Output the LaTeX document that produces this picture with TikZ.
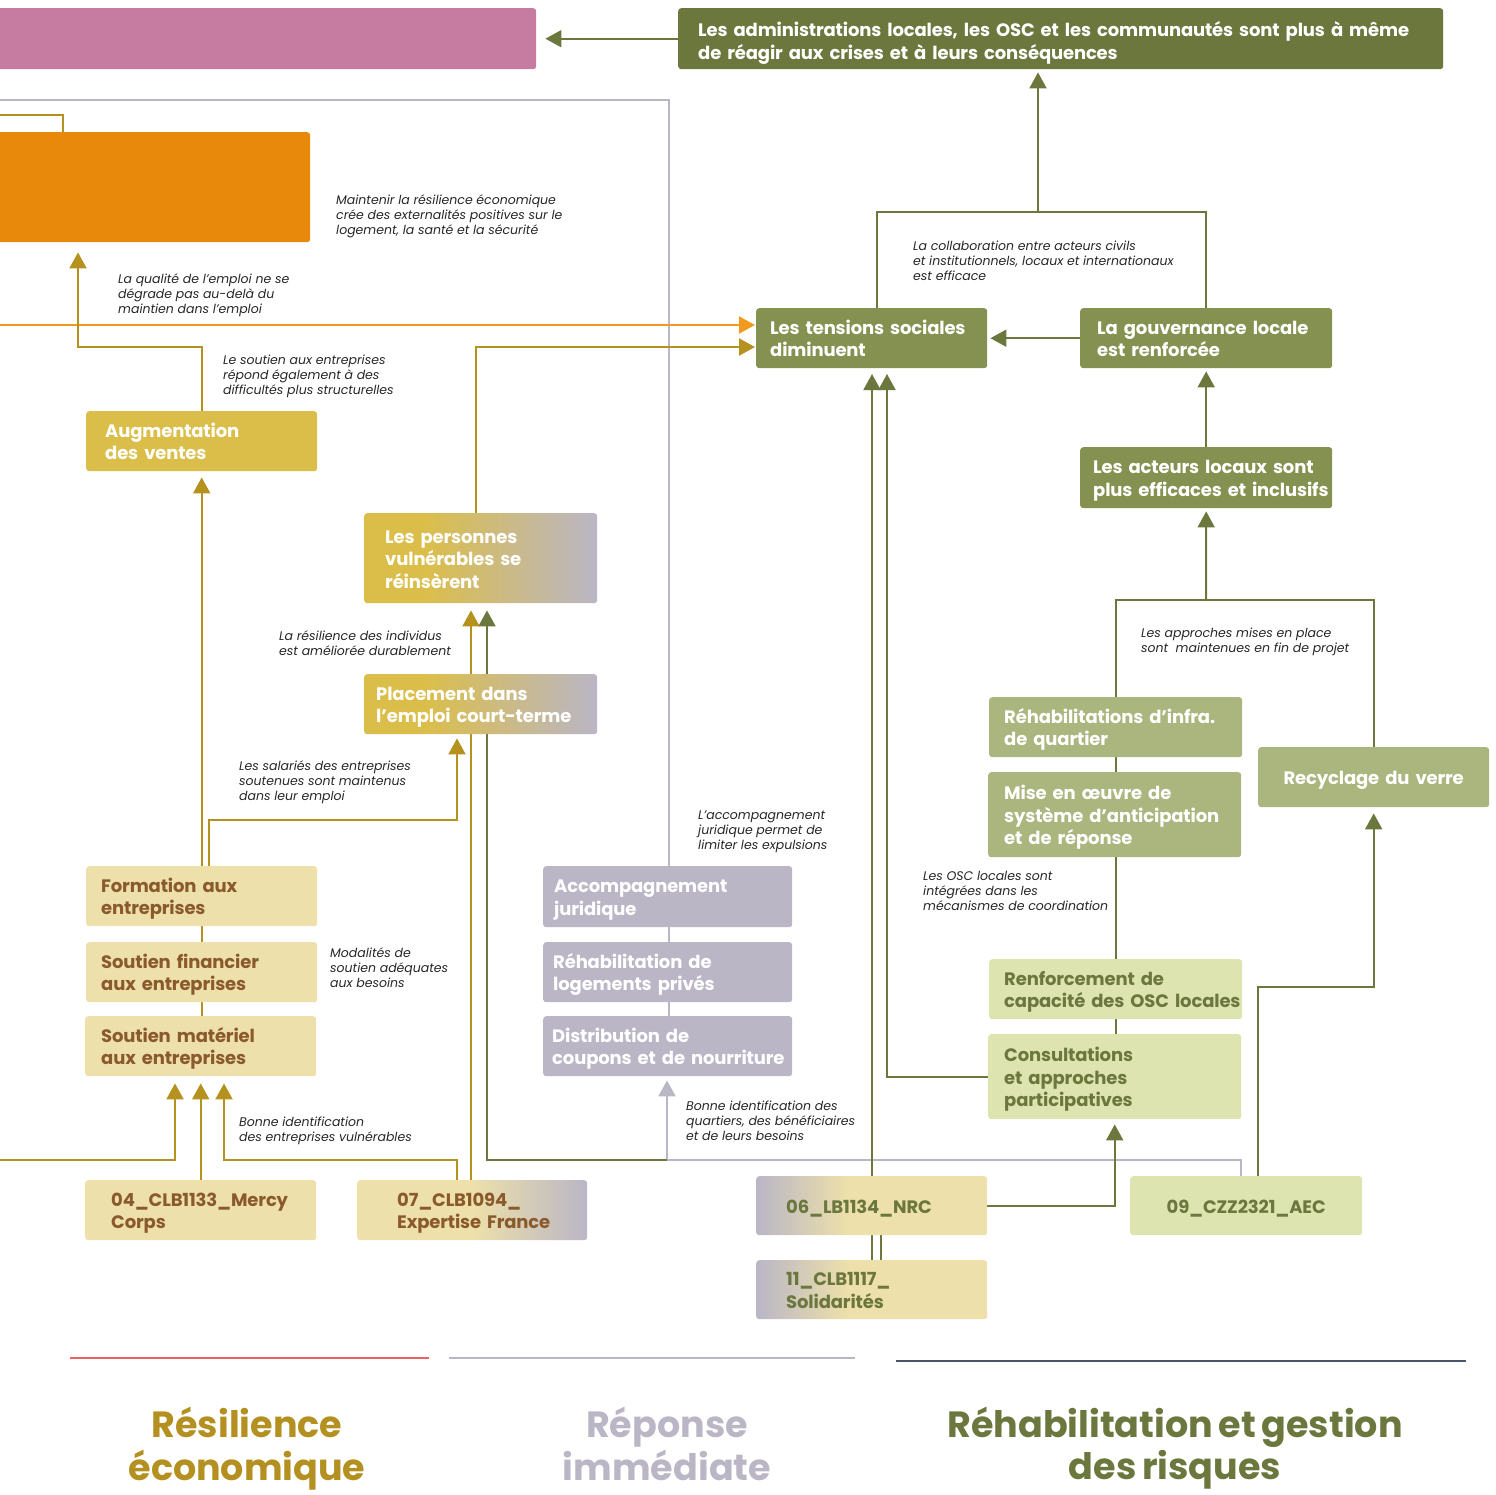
\documentclass[tikz,border=0pt]{standalone}
\usepackage{fontspec}
\setmainfont{Poppins}
\newfontfamily\boxfont{Poppins}[WordSpace=0.72, LetterSpace=-0.8]
\newfontfamily\ttlfont{Poppins}[WordSpace=0.72]
\usetikzlibrary{arrows.meta}
\pgfdeclarelayer{background}
\pgfsetlayers{background,main}
\definecolor{dolive}{HTML}{6B773D}
\definecolor{molive}{HTML}{859150}
\definecolor{lolive}{HTML}{ABB57E}
\definecolor{pgreen}{HTML}{DDE4B0}
\definecolor{gline}{HTML}{B5911E}
\definecolor{ygold}{HTML}{DBBE4A}
\definecolor{beige}{HTML}{EDE0AA}
\definecolor{tbrown}{HTML}{8A5A2C}
\definecolor{lav}{HTML}{BAB6C6}
\definecolor{orng}{HTML}{E8890C}
\definecolor{oline}{HTML}{F29A1F}
\definecolor{pinkbox}{HTML}{C67BA0}
\definecolor{redl}{HTML}{E86464}
\definecolor{slate}{HTML}{4A5568}
\definecolor{tgold}{HTML}{B39020}
\pgfdeclarehorizontalshading{goldlav}{100bp}{color(0bp)=(ygold); color(25bp)=(ygold); color(38bp)=(ygold); color(75bp)=(lav); color(100bp)=(lav)}
\pgfdeclarehorizontalshading{beigelav}{100bp}{color(0bp)=(beige); color(25bp)=(beige); color(50bp)=(beige); color(75bp)=(lav); color(100bp)=(lav)}
\pgfdeclarehorizontalshading{lavbeige}{100bp}{color(0bp)=(lav); color(25bp)=(lav); color(45bp)=(beige); color(75bp)=(beige); color(100bp)=(beige)}
\newcommand\nodefont{\boxfont\bfseries\fontsize{18}{22.5}\selectfont}
\newcommand\annfont{\itshape\fontsize{12.5}{15}\selectfont}
\newcommand\titlefont{\ttlfont\bfseries\fontsize{36.5}{42}\selectfont}
\newcommand\tl[1]{\noindent\raisebox{-3pt}[\height][\depth]{\begin{tabular}{@{}l@{}}#1\end{tabular}}}
\newcommand\tlx[1]{\noindent\raisebox{-5pt}[\height][\depth]{\begin{tabular}{@{}l@{}}#1\end{tabular}}}
\newcommand\tc[1]{\raisebox{-3pt}[\height][\depth]{\begin{tabular}{@{}c@{}}#1\end{tabular}}}
\newcommand\tct[1]{\begin{tabular}{@{}c@{}}#1\end{tabular}}
\tikzset{
  bx/.style={anchor=north west, rounded corners=3pt, inner ysep=0pt, align=left, font=\nodefont},
  ln/.style={line width=2pt},
  arr/.style={line width=2pt, -{Triangle[width=17pt,length=16pt]}},
  ann/.style={anchor=north west, inner sep=0pt, align=left, font=\annfont, text=black!85},
  ttl/.style={anchor=north, align=center, font=\titlefont, inner sep=0pt}
}
\begin{document}
\begin{tikzpicture}[x=1pt,y=-1pt]
\useasboundingbox (0,0) rectangle (1496,1494);
\clip (0,0) rectangle (1496,1494);
% ---------- nodes ----------
\node[bx, fill=pinkbox, minimum width=542pt, minimum height=61pt, inner xsep=0pt] (pink) at (-6,8) {};
\node[bx, fill=dolive, text=white, text width=725pt, inner xsep=20pt, minimum height=61pt] (admin) at (678,8) {\tlx{Les administrations locales, les OSC et les communautés sont plus à même\\de réagir aux crises et à leurs conséquences}};
\node[bx, fill=orng, minimum width=316pt, minimum height=110pt, inner xsep=0pt] (orng) at (-6,132) {};
\node[bx, fill=molive, text=white, text width=203pt, inner xsep=14pt, minimum height=60pt] (tens) at (756,308) {\tl{Les tensions sociales\\diminuent}};
\node[bx, fill=molive, text=white, text width=218pt, inner xsep=17pt, minimum height=60pt] (gouv) at (1080,308) {\tl{La gouvernance locale\\est renforcée}};
\node[bx, fill=molive, text=white, text width=226pt, inner xsep=13pt, minimum height=61pt] (act) at (1080,447) {\tl{Les acteurs locaux sont\\plus efficaces et inclusifs}};
\node[bx, fill=ygold, text=white, text width=193pt, inner xsep=19pt, minimum height=60pt] (aug) at (86,411) {\tl{Augmentation\\des ventes}};
\node[bx, shading=goldlav, text=white, text width=191pt, inner xsep=21pt, minimum height=90pt] (pers) at (364,513) {\tl{Les personnes\\vulnérables se\\réinsèrent}};
\node[bx, shading=goldlav, text=white, text width=209pt, inner xsep=12pt, minimum height=60pt] (place) at (364,674) {\tl{Placement dans\\l’emploi court-terme}};
\node[bx, fill=beige, text=tbrown, text width=201pt, inner xsep=15pt, minimum height=60pt] (form) at (86,866) {\tl{Formation aux\\entreprises}};
\node[bx, fill=beige, text=tbrown, text width=201pt, inner xsep=15pt, minimum height=60pt] (sfin) at (86,942) {\tl{Soutien financier\\aux entreprises}};
\node[bx, fill=beige, text=tbrown, text width=199pt, inner xsep=16pt, minimum height=60pt] (smat) at (85,1016) {\tl{Soutien matériel\\aux entreprises}};
\node[bx, fill=beige, text=tbrown, text width=179pt, inner xsep=26pt, minimum height=60pt] (m04) at (85,1180) {\tl{04\_CLB1133\_Mercy\\Corps}};
\node[bx, shading=beigelav, text=tbrown, text width=150pt, inner xsep=40pt, minimum height=60pt] (m07) at (357,1180) {\tl{07\_CLB1094\_\\Expertise France}};
\node[bx, fill=lav, text=white, text width=227pt, inner xsep=11pt, minimum height=61pt] (acc) at (543,866) {\tl{Accompagnement\\juridique}};
\node[bx, fill=lav, text=white, text width=229pt, inner xsep=10pt, minimum height=60pt] (rlog) at (543,942) {\tl{Réhabilitation de\\logements privés}};
\node[bx, fill=lav, text=white, text width=231pt, inner xsep=9pt, minimum height=60pt] (dist) at (543,1016) {\tl{Distribution de\\coupons et de nourriture}};
\node[bx, shading=lavbeige, text=dolive, text width=171pt, inner xsep=30pt, minimum height=59pt] (m06) at (756,1176) {\tl{06\_LB1134\_NRC}};
\node[bx, shading=lavbeige, text=dolive, text width=171pt, inner xsep=30pt, minimum height=59pt] (m11) at (756,1260) {\tl{11\_CLB1117\_\\Solidarités}};
\node[bx, fill=lolive, text=white, text width=223pt, inner xsep=15pt, minimum height=60pt] (rinf) at (989,697) {\tl{Réhabilitations d’infra.\\de quartier}};
\node[bx, fill=lolive, text=white, text width=221pt, inner xsep=16pt, minimum height=85pt] (mise) at (988,772) {\tl{Mise en œuvre de\\système d’anticipation\\et de réponse}};
\node[bx, fill=lolive, text=white, text width=211pt, inner xsep=10pt, minimum height=60pt, align=center] (recy) at (1258,747) {\tc{Recyclage du verre}};
\node[bx, fill=pgreen, text=dolive, text width=223pt, inner xsep=15pt, minimum height=60pt] (renf) at (989,959) {\tl{Renforcement de\\capacité des OSC locales}};
\node[bx, fill=pgreen, text=dolive, text width=221pt, inner xsep=16pt, minimum height=85pt] (cons) at (988,1034) {\tl{Consultations\\et approches\\participatives}};
\node[bx, fill=pgreen, text=dolive, text width=212pt, inner xsep=10pt, minimum height=59pt, align=center] (m09) at (1130,1176) {\tc{09\_CZZ2321\_AEC}};
% ---------- annotations ----------
\node[ann] (a1) at (336,195) {Maintenir la résilience économique\\crée des externalités positives sur le\\logement, la santé et la sécurité};
\node[ann] (a2) at (118,274) {La qualité de l’emploi ne se\\dégrade pas au-delà du\\maintien dans l’emploi};
\node[ann] (a3) at (223,355) {Le soutien aux entreprises\\répond également à des\\difficultés plus structurelles};
\node[ann] (a4) at (913,241) {La collaboration entre acteurs civils\\et institutionnels, locaux et internationaux\\est efficace};
\node[ann] (a5) at (279,631) {La résilience des individus\\est améliorée durablement};
\node[ann] (a6) at (1141,628) {Les approches mises en place\\sont~ maintenues en fin de projet};
\node[ann] (a7) at (239,761) {Les salariés des entreprises\\soutenues sont maintenus\\dans leur emploi};
\node[ann] (a8) at (698,811) {L’accompagnement\\juridique permet de\\limiter les expulsions};
\node[ann] (a9) at (923,871) {Les OSC locales sont\\intégrées dans les\\mécanismes de coordination};
\node[ann] (a10) at (330,948) {Modalités de\\soutien adéquates\\aux besoins};
\node[ann] (a11) at (239,1117) {Bonne identification\\des entreprises vulnérables};
\node[ann] (a12) at (686,1101) {Bonne identification des\\quartiers, des bénéficiaires\\et de leurs besoins};
% ---------- titles ----------
\node[ttl, text=tgold] (t1) at (247,1407) {\tct{Résilience\\économique}};
\node[ttl, text=lav] (t2) at (667,1407) {\tct{Réponse\\immédiate}};
\node[ttl, text=dolive] (t3) at (1175,1407) {\tct{Réhabilitation et gestion\\des risques}};
\coordinate (r1a) at (70,1358); \coordinate (r1b) at (429,1358);
\coordinate (r2a) at (449,1358); \coordinate (r2b) at (855,1358);
\coordinate (r3a) at (896,1361); \coordinate (r3b) at (1466,1361);
\draw[redl, line width=2.2pt] (r1a) -- (r1b);
\draw[lav, line width=2.5pt] (r2a) -- (r2b);
\draw[slate, line width=2pt] (r3a) -- (r3b);
% ---------- connectors ----------
\coordinate (cTop) at (1038,212);
\coordinate (x877) at (877,212);
\coordinate (cAp) at (1206,600);
\coordinate (c09) at (1258,987);
\coordinate (x887) at (887,368);
\coordinate (x872) at (872,368);
\coordinate (x881) at (881,368);
\coordinate (lavJ) at (667,1160);
\coordinate (x487) at (487,1160);
\coordinate (x1241) at (1241,1160);
\coordinate (lavT) at (669,100);
\coordinate (lavL) at (-2,100);
\coordinate (oL) at (-2,325);
\coordinate (g476) at (476,347);
\coordinate (g78) at (78,347);
\coordinate (g63) at (63,115);
\coordinate (gL1) at (-2,115);
\coordinate (g209) at (209,820);
\coordinate (g457) at (457,820);
\coordinate (g471) at (471,1180);
\coordinate (gL2) at (-2,1160);
\coordinate (g175) at (175,1160);
\coordinate (g224) at (224,1160);
\coordinate (g457b) at (457,1160);
\begin{pgfonlayer}{background}
% lavender
\draw[ln, lav] (lavT |- acc.north) -- (lavT) -- (lavL);
\draw[ln, lav] (lavT |- acc.south) -- (lavT |- rlog.north);
\draw[ln, lav] (lavT |- rlog.south) -- (lavT |- dist.north);
\draw[ln, lav] (x1241 |- m09.north) -- (x1241) -- (lavJ);
\draw[arr, lav, shorten >=4pt] (lavJ) -- (lavJ |- dist.south);
% green (dark olive)
\draw[arr, dolive, shorten >=9pt] (admin.west) -- (pink.east);
\draw[ln, dolive] (x877 |- tens.north) -- (x877) -| (gouv.north);
\draw[arr, dolive, shorten >=3pt] (cTop) -- (cTop |- admin.south);
\draw[arr, dolive, shorten >=3pt] (gouv.west) -- (tens.east);
\draw[arr, dolive, shorten >=3pt] (act.north) -- (gouv.south);
\draw[ln, dolive] (rinf.north) |- (cAp) -| (recy.north);
\draw[arr, dolive, shorten >=3pt] (cAp) -- (act.south);
\draw[ln, dolive] (rinf.south) -- (rinf.south |- mise.north);
\draw[ln, dolive] (rinf.south |- mise.south) -- (rinf.south |- renf.north);
\draw[ln, dolive] (rinf.south |- renf.south) -- (rinf.south |- cons.north);
\draw[arr, dolive, shorten >=6pt] (c09 |- m09.north) -- (c09) -| (recy.south);
\draw[arr, dolive, shorten >=5pt] (m06.east) -| (cons.south);
\draw[arr, dolive, shorten >=6pt] (cons.west) -| (x887);
\draw[arr, dolive, shorten >=6pt] (x872 |- m06.north) -- (x872);
\draw[dolive, line width=1.6pt] (x872 |- m06.south) -- (x872 |- m11.north);
\draw[dolive, line width=1.6pt] (x881 |- m06.south) -- (x881 |- m11.north);
\draw[arr, dolive, shorten >=7pt] (lavJ) -- (x487) -- (x487 |- pers.south);
% orange
\draw[arr, oline, shorten >=1pt] (oL) -- (oL -| tens.west);
% gold
\draw[arr, gline, shorten >=1pt] (g476 |- pers.north) -- (g476) -- (g476 -| tens.west);
\draw[arr, gline, shorten >=10pt] (aug.north) |- (g78) -- (g78 |- orng.south);
\draw[ln, gline] (gL1) -- (g63) -- (g63 |- orng.north);
\draw[arr, gline, shorten >=6pt] (form.north) -- (aug.south);
\draw[arr, gline, shorten >=4pt] (g209 |- form.north) -- (g209) -- (g457) -- (g457 |- place.south);
\draw[arr, gline, shorten >=7pt] (g471) -- (g471 |- pers.south);
\draw[ln, gline] (form.south) -- (form.south |- sfin.north);
\draw[ln, gline] (form.south |- sfin.south) -- (form.south |- smat.north);
\draw[arr, gline, shorten >=7pt] (gL2) -- (g175) -- (g175 |- smat.south);
\draw[arr, gline, shorten >=7pt] (m04.north) -- (m04.north |- smat.south);
\draw[arr, gline, shorten >=7pt] (g457b |- m07.north) -- (g457b) -- (g224) -- (g224 |- smat.south);
\end{pgfonlayer}
\end{tikzpicture}
\end{document}
